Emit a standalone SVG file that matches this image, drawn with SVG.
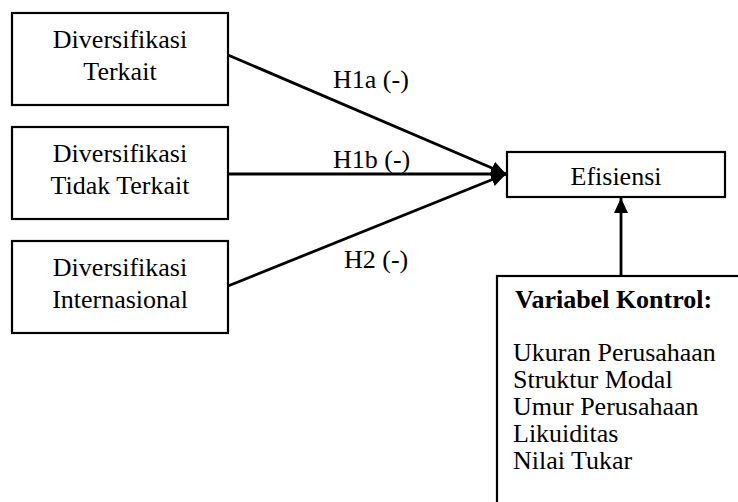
<svg xmlns="http://www.w3.org/2000/svg" width="738" height="502" viewBox="0 0 738 502">
<style>
.box{fill:#fff;stroke:#000;stroke-width:2.2}
text{font-family:"Liberation Serif","Times New Roman","DejaVu Serif",serif;font-size:26px;fill:#000}
.c{text-anchor:middle}
.b{font-weight:bold}
.ln{stroke:#000;stroke-width:2.8;fill:none}
</style>
<defs>
<marker id="ah" markerUnits="userSpaceOnUse" markerWidth="16" markerHeight="16" viewBox="0 0 16 16" refX="15" refY="8" orient="auto">
<path d="M0,1 L15,8 L0,15 Z" fill="#000"/>
</marker>
</defs>
<rect width="738" height="502" fill="#fff"/>
<g id="n1"><rect class="box" x="12" y="13" width="216" height="92"/><text class="c" x="120" y="48">Diversifikasi</text><text class="c" x="120" y="80">Terkait</text></g>
<g id="n2"><rect class="box" x="12" y="127" width="216" height="92"/><text class="c" x="120" y="162">Diversifikasi</text><text class="c" x="120" y="194">Tidak Terkait</text></g>
<g id="n3"><rect class="box" x="12" y="241" width="216" height="92"/><text class="c" x="120" y="276">Diversifikasi</text><text class="c" x="120" y="308">Internasional</text></g>
<g id="n4"><rect class="box" x="507" y="152" width="218" height="45"/><text class="c" x="616" y="185">Efisiensi</text></g>
<g id="n5"><rect class="box" x="497" y="276" width="260" height="250"/>
<text class="b" x="515" y="308">Variabel Kontrol:</text>
<text x="513" y="361">Ukuran Perusahaan</text>
<text x="513" y="388">Struktur Modal</text>
<text x="513" y="415">Umur Perusahaan</text>
<text x="513" y="442">Likuiditas</text>
<text x="513" y="469">Nilai Tukar</text>
</g>
<g id="edges">
<line class="ln" x1="228" y1="55" x2="506" y2="174" marker-end="url(#ah)"/>
<line class="ln" x1="228" y1="174" x2="506" y2="174" marker-end="url(#ah)"/>
<line class="ln" x1="228" y1="286" x2="506" y2="174" marker-end="url(#ah)"/>
<line class="ln" x1="621" y1="276" x2="621" y2="198" marker-end="url(#ah)"/>
<text x="333" y="88">H1a (-)</text>
<text x="333" y="168">H1b (-)</text>
<text x="344" y="268">H2 (-)</text>
</g>
</svg>
